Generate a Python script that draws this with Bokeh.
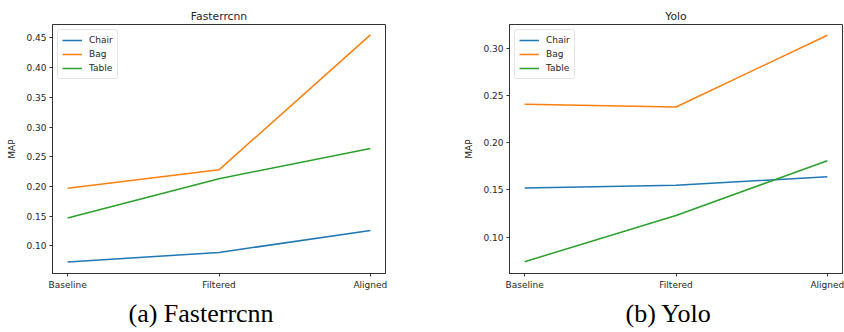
from bokeh.plotting import figure
from bokeh.layouts import row
from bokeh.models import FixedTicker, Range1d, Legend, LegendItem, Title, NumeralTickFormatter
from bokeh.embed import file_html
from bokeh.resources import INLINE

stages = ["Baseline", "Filtered", "Aligned"]
series_names = ["Chair", "Bag", "Table"]
colors = ["#1f77b4", "#ff7f0e", "#2ca02c"]

frcnn_chair = [0.073, 0.089, 0.126]
frcnn_bag = [0.197, 0.228, 0.455]
frcnn_table = [0.147, 0.213, 0.264]

yolo_chair = [0.152, 0.155, 0.164]
yolo_bag = [0.241, 0.238, 0.314]
yolo_table = [0.074, 0.123, 0.181]

frcnn_ticks = [0.10, 0.15, 0.20, 0.25, 0.30, 0.35, 0.40, 0.45]
yolo_ticks = [0.10, 0.15, 0.20, 0.25, 0.30]

FONT = "DejaVu Sans"
TXT = "#262626"


def make(title, caption, data, yr, ticks, width, bl, br, cap_offset):
    xs = list(range(len(stages)))
    p = figure(width=width, height=332, output_backend="svg", toolbar_location=None,
               x_range=Range1d(-0.1, 2.1), y_range=Range1d(*yr),
               min_border_left=bl, min_border_right=br, min_border_top=24, min_border_bottom=59)
    p.title.text = title
    p.title.align = "center"
    p.title.text_font = FONT
    p.title.text_font_size = "10.8px"
    p.title.text_font_style = "normal"
    p.title.text_color = TXT
    p.title.standoff = 4
    items = []
    for name, vals, c in zip(series_names, data, colors):
        r = p.line(xs, vals, line_color=c, line_width=1.5)
        items.append(LegendItem(label=name, renderers=[r]))
    leg = Legend(items=items, location="top_left")
    leg.label_text_font = FONT
    leg.label_text_font_size = "9px"
    leg.label_text_color = TXT
    leg.glyph_width = 20
    leg.glyph_height = 12
    leg.label_height = 12
    leg.label_standoff = 7
    leg.spacing = 2
    leg.padding = 4
    leg.margin = 5
    leg.border_line_color = "#cccccc"
    leg.border_line_width = 1
    leg.border_radius = 3
    leg.background_fill_alpha = 0.8
    p.add_layout(leg)

    p.outline_line_color = "#333333"
    p.outline_line_width = 1
    p.xgrid.visible = False
    p.ygrid.visible = False
    for ax in (p.xaxis[0], p.yaxis[0]):
        ax.axis_line_color = "#333333"
        ax.major_tick_line_color = "#333333"
        ax.major_tick_out = 3
        ax.major_tick_in = 0
        ax.minor_tick_line_color = None
        ax.major_label_text_font = FONT
        ax.major_label_text_font_size = "9px"
        ax.major_label_text_color = TXT
        ax.major_label_standoff = 3
    p.xaxis.ticker = FixedTicker(ticks=xs)
    p.xaxis.major_label_overrides = {i: s for i, s in enumerate(stages)}
    p.yaxis.ticker = FixedTicker(ticks=ticks)
    p.yaxis.formatter = NumeralTickFormatter(format="0.00")
    p.yaxis.axis_label = "MAP"
    p.yaxis.axis_label_text_font = FONT
    p.yaxis.axis_label_text_font_size = "9px"
    p.yaxis.axis_label_text_font_style = "normal"
    p.yaxis.axis_label_text_color = TXT
    p.yaxis.axis_label_standoff = 6

    cap = Title(text=caption, align="left", offset=cap_offset, text_font="Liberation Serif",
                text_font_size="26px", text_font_style="normal", text_color="#000000", standoff=8)
    p.add_layout(cap, "below")
    return p


p1 = make("Fasterrcnn", "(a) Fasterrcnn", [frcnn_chair, frcnn_bag, frcnn_table],
          (0.0536, 0.4725), frcnn_ticks, 422, 52, 37, 76)
p2 = make("Yolo", "(b) Yolo", [yolo_chair, yolo_bag, yolo_table],
          (0.0615, 0.3254), yolo_ticks, 422, 87, 2, 116)

layout = row(p1, p2, spacing=0)
open("out.html", "w").write(file_html(layout, INLINE))
